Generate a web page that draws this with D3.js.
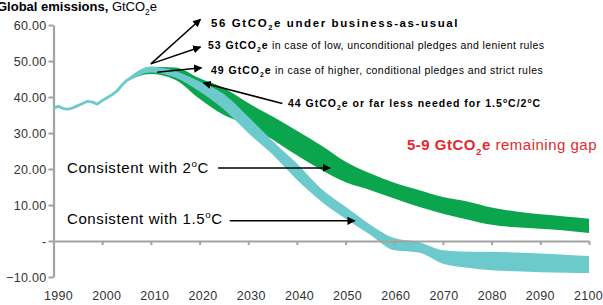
<!DOCTYPE html>
<html>
<head>
<meta charset="utf-8">
<title>Global emissions</title>
<script src="https://d3js.org/d3.v7.min.js"></script>
<style>
	body { margin: 0; background: #fff; }
	text { font-family: "Liberation Sans", Arial, sans-serif; }
</style>
</head>
<body>
<script>
	// historical emissions, GtCO2e
	var histYears = [1990, 1991, 1992, 1993, 1994, 1995, 1996, 1997, 1998, 1999, 2000,
		2001, 2002, 2003, 2004, 2005, 2006, 2007, 2008, 2009, 2010];
	var histValues = [36.9, 37.4, 36.8, 36.6, 37.0, 37.6, 38.2, 38.8, 38.6, 38.0, 39.0,
		39.8, 40.6, 41.6, 43.2, 44.6, 45.3, 46.0, 46.6, 47.2, 47.8];

	// pathway bands
	var bandYears = [2005, 2010, 2015, 2020, 2025, 2030, 2035, 2040, 2045, 2050,
		2055, 2060, 2065, 2070, 2075, 2080, 2085, 2090, 2095, 2100];
	var twoUpper = [44.8, 48.4, 48.2, 45.2, 42.5, 38.3, 34.6, 30.6, 26.5, 22.0,
		18.8, 16.2, 14.2, 12.2, 11.0, 9.3, 8.2, 7.4, 6.8, 6.2];
	var twoLower = [44.4, 46.4, 44.8, 39.5, 35.0, 32.2, 28.2, 23.8, 19.8, 16.3,
		14.2, 11.8, 9.5, 7.6, 6.0, 4.5, 3.8, 3.4, 2.9, 2.2];
	var onefiveUpper = [44.8, 48.4, 47.2, 44.3, 40.8, 34.5, 27.8, 21.5, 14.5, 9.5,
		4.6, 0.8, -0.3, -2.6, -3.0, -3.0, -3.2, -3.5, -3.8, -4.2];
	var onefiveLower = [44.4, 46.8, 45.4, 41.5, 36.5, 30.0, 24.0, 17.0, 11.0, 6.2,
		1.8, -2.6, -3.2, -6.3, -7.4, -8.1, -8.4, -8.7, -8.8, -8.9];

	var xTicks = [1990, 2000, 2010, 2020, 2030, 2040, 2050, 2060, 2070, 2080, 2090, 2100];
	var yTicks = [60, 50, 40, 30, 20, 10, 0, -10];

	var svgWidth = 603,
		svgHeight = 305,
		svg = d3.select("body").append("svg")
			.attr("width", svgWidth)
			.attr("height", svgHeight);

	var x = d3.scaleLinear().domain([1990, 2100]).range([53.5, 589]),
		y = d3.scaleLinear().domain([-10, 60]).range([277, 25]);

	var teal = "#6ccacd",
		green = "#0ba54e",
		axisGrey = "#a3a3a3";

	function bandRows(upper, lower) {
		return bandYears.map(function(yr, i) { return {year: yr, hi: upper[i], lo: lower[i]}; });
	}

	var area = d3.area()
		.x(function(d) { return x(d.year); })
		.y0(function(d) { return y(d.lo); })
		.y1(function(d) { return y(d.hi); })
		.curve(d3.curveMonotoneX);

	// bands: 2C first, 1.5C over it
	svg.append("path")
		.datum(bandRows(twoUpper, twoLower))
		.attr("fill", green)
		.attr("d", area);

	svg.append("path")
		.datum(bandRows(onefiveUpper, onefiveLower))
		.attr("fill", teal)
		.attr("d", area);

	// axes
	var yAxis = svg.append("g")
		.attr("transform", "translate(" + x(1990) + ",0)")
		.call(d3.axisLeft(y).tickValues(yTicks).tickSize(5).tickSizeOuter(0)
			.tickFormat(function(d) { return d === 0 ? "-" : d3.format(".2f")(d); }));
	yAxis.select(".domain").attr("stroke", axisGrey).attr("stroke-width", 2.2);
	yAxis.selectAll(".tick line").attr("stroke", axisGrey).attr("stroke-width", 2);
	yAxis.selectAll(".tick text")
		.attr("x", -7)
		.attr("fill", "#333")
		.attr("font-size", 12.5)
		.attr("letter-spacing", 0.3)
		.attr("font-family", "Liberation Sans, Arial, sans-serif");

	var xAxis = svg.append("g")
		.attr("transform", "translate(0," + y(0) + ")")
		.call(d3.axisBottom(x).tickValues(xTicks).tickSize(4).tickSizeOuter(0)
			.tickFormat(d3.format("d")));
	xAxis.select(".domain").attr("stroke", axisGrey).attr("stroke-width", 2.2);
	xAxis.selectAll(".tick line").attr("stroke", axisGrey).attr("stroke-width", 2);
	xAxis.selectAll(".tick text")
		.attr("y", 50)
		.attr("dx", function(d) { return 4.5 - (d - 1990) / 110 * 5.5; })
		.attr("fill", "#333")
		.attr("font-size", 12.5)
		.attr("letter-spacing", 0.3)
		.attr("font-family", "Liberation Sans, Arial, sans-serif");

	// historical line
	var line = d3.line()
		.x(function(d, i) { return x(histYears[i]); })
		.y(function(d) { return y(d); });

	svg.append("path")
		.datum(histValues)
		.attr("fill", "none")
		.attr("stroke", teal)
		.attr("stroke-width", 2.8)
		.attr("stroke-linejoin", "round")
		.attr("d", line);

	// arrow head
	svg.append("defs").append("marker")
		.attr("id", "head")
		.attr("viewBox", "0 0 10 10")
		.attr("refX", 9)
		.attr("refY", 5)
		.attr("markerWidth", 5.5)
		.attr("markerHeight", 5.5)
		.attr("orient", "auto")
		.append("path")
		.attr("d", "M0,0L10,5L0,10z")
		.attr("fill", "#000");

	// text with bold / subscript / superscript pieces
	function richText(px, py, parts, size, color, spaceBold, spaceReg) {
		var t = svg.append("text")
			.attr("x", px)
			.attr("y", py)
			.attr("font-size", size)
			.attr("fill", color || "#000");
		var shift = 0;
		parts.forEach(function(p) {
			var want = p.sub ? size * 0.3 : (p.sup ? -size * 0.38 : 0);
			t.append("tspan")
				.attr("dy", want - shift)
				.attr("font-weight", p.b ? "bold" : "normal")
				.attr("letter-spacing", p.b ? (spaceBold || 0) : (spaceReg || 0))
				.attr("font-size", (p.sub || p.sup) ? size * 0.65 : size)
				.text(p.t);
			shift = want;
		});
		return t;
	}

	function arrow(x1, y1, x2, y2) {
		svg.append("line")
			.attr("x1", x(x1)).attr("y1", y(y1))
			.attr("x2", x(x2)).attr("y2", y(y2))
			.attr("stroke", "#000")
			.attr("stroke-width", 1.5)
			.attr("marker-end", "url(#head)");
	}

	// title
	richText(-3, 11, [
		{t: "Global emissions, ", b: true},
		{t: "GtCO"}, {t: "2", sub: true}, {t: "e"}
	], 13);

	// pledge annotations
	arrow(2010, 49.2, 2020.2, 61.6);
	arrow(2010, 49.2, 2020.2, 53.9);
	arrow(2011.3, 46.9, 2020.4, 48.1);
	arrow(2037.0, 38.2, 2020.8, 43.9);

	richText(211, 27, [
		{t: "56 GtCO", b: true}, {t: "2", b: true, sub: true}, {t: "e under business-as-usual", b: true}
	], 11.5, "#000", 1.6, 0.4);
	richText(208, 49, [
		{t: "53 GtCO", b: true}, {t: "2", b: true, sub: true}, {t: "e", b: true},
		{t: " in case of low, unconditional pledges and lenient rules"}
	], 10.5, "#000", 1, 0.4);
	richText(211, 74, [
		{t: "49 GtCO", b: true}, {t: "2", b: true, sub: true}, {t: "e", b: true},
		{t: " in case of higher, conditional pledges and strict rules"}
	], 10.5, "#000", 1, 0.45);
	richText(288, 107, [
		{t: "44 GtCO", b: true}, {t: "2", b: true, sub: true}, {t: "e or far less needed for 1.5", b: true},
		{t: "o", b: true, sup: true}, {t: "C/2", b: true}, {t: "o", b: true, sup: true}, {t: "C", b: true}
	], 10.5, "#000", 1, 0.4);

	richText(407, 150, [
		{t: "5-9 GtCO", b: true}, {t: "2", b: true, sub: true}, {t: "e", b: true},
		{t: " remaining gap"}
	], 15, "#e8262d", 0.5, 0.5);

	// pathway labels
	richText(67, 173, [
		{t: "Consistent with 2"}, {t: "o", sup: true}, {t: "C"}
	], 15, "#000", 0.6, 0.6);
	arrow(2023.8, 20.3, 2046.8, 20.3);

	richText(67, 224, [
		{t: "Consistent with 1.5"}, {t: "o", sup: true}, {t: "C"}
	], 15, "#000", 0.6, 0.6);
	arrow(2026.2, 5.6, 2051.9, 5.6);
</script>
</body>
</html>
